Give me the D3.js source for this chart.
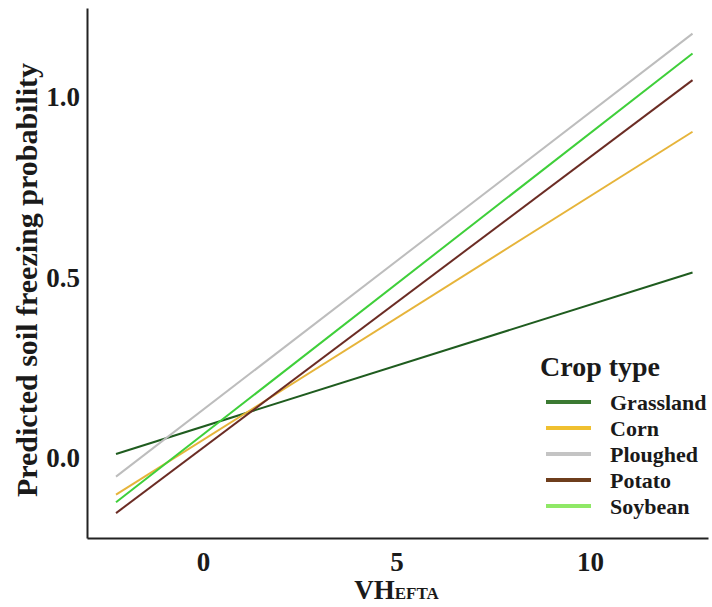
<!DOCTYPE html>
<html>
<head>
<meta charset="utf-8">
<script src="https://cdn.jsdelivr.net/npm/d3@7"></script>
<style>
  body { margin: 0; background: #fff; }
  text { font-family: "Liberation Serif", "Times New Roman", serif; font-weight: bold; fill: #1a1a1a; }
</style>
</head>
<body>
<div id="chart"></div>
<script>
// x range of the fitted lines (VH EFTA)
const xEnds = [-2.25, 12.65];

const crops = ['Grassland', 'Corn', 'Ploughed', 'Potato', 'Soybean'];
// predicted probability at the two ends of each line
const grassland = [0.011, 0.514];
const corn = [-0.102, 0.904];
const ploughed = [-0.052, 1.176];
const potato = [-0.153, 1.047];
const soybean = [-0.123, 1.121];

const lineColors = ['#1f5c1f', '#e6b43a', '#bdbdbd', '#6b2c24', '#3fcf3a'];
const keyColors = ['#3b7a32', '#f0c030', '#c4c4c4', '#6e3d1c', '#8fe866'];

const xTicks = [0, 5, 10];
const yTicks = [0.0, 0.5, 1.0];

const width = 712, height = 607;
const margin = { top: 8, right: 4, bottom: 69, left: 87 };

const svg = d3.select('#chart').append('svg')
  .attr('width', width)
  .attr('height', height);

const x = d3.scaleLinear()
  .domain([-3.0, 13.05])
  .range([margin.left, width - margin.right]);

const y = d3.scaleLinear()
  .domain([-0.222, 1.247])
  .range([height - margin.bottom, margin.top]);

const series = [grassland, corn, ploughed, potato, soybean].map((vals, i) => ({
  name: crops[i],
  points: xEnds.map((xv, j) => ({ x: xv, y: vals[j] }))
}));

const line = d3.line()
  .x(d => x(d.x))
  .y(d => y(d.y));

// lines, drawn in order
svg.append('g')
  .selectAll('path')
  .data(series)
  .join('path')
  .attr('fill', 'none')
  .attr('stroke', (d, i) => lineColors[i])
  .attr('stroke-width', 2)
  .attr('d', d => line(d.points));

// axes (no ticks, only labels)
const xAxis = d3.axisBottom(x).tickValues(xTicks).tickSize(0).tickPadding(14).tickFormat(d3.format('d'));
const yAxis = d3.axisLeft(y).tickValues(yTicks).tickSize(0).tickPadding(7).tickFormat(d3.format('.1f'));

const gx = svg.append('g')
  .attr('transform', `translate(0,${height - margin.bottom})`)
  .call(xAxis);
const gy = svg.append('g')
  .attr('transform', `translate(${margin.left},0)`)
  .call(yAxis);

[gx, gy].forEach(g => {
  g.select('.domain').attr('stroke', '#222').attr('stroke-width', 2);
  g.selectAll('.tick text')
    .style('font-family', '"Liberation Serif", serif')
    .style('font-weight', 'bold')
    .style('font-size', '27px')
    .attr('fill', '#1a1a1a');
});

// axis titles
const xTitle = svg.append('text')
  .attr('x', x(5))
  .attr('y', 599)
  .attr('text-anchor', 'middle')
  .style('font-size', '27px');
xTitle.append('tspan').text('VH');
xTitle.append('tspan').style('font-size', '17px').text('EFTA');

svg.append('text')
  .attr('transform', 'translate(37,280) rotate(-90)')
  .attr('text-anchor', 'middle')
  .style('font-size', '30px')
  .text('Predicted soil freezing probability');

// legend
const legend = svg.append('g').attr('transform', 'translate(540,0)');
legend.append('text')
  .attr('x', 0)
  .attr('y', 376)
  .style('font-size', '28px')
  .text('Crop type');

const rows = legend.selectAll('g.row')
  .data(crops)
  .join('g')
  .attr('class', 'row')
  .attr('transform', (d, i) => `translate(0,${402 + i * 26})`);

rows.append('line')
  .attr('x1', 6).attr('x2', 51)
  .attr('stroke', (d, i) => keyColors[i])
  .attr('stroke-width', 4);

rows.append('text')
  .attr('x', 70)
  .attr('dy', '0.35em')
  .style('font-size', '22px')
  .text(d => d);
</script>
</body>
</html>
